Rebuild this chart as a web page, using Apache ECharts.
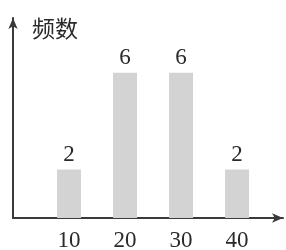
<!DOCTYPE html>
<html>
<head>
<meta charset="utf-8">
<script src="https://cdn.jsdelivr.net/npm/echarts@6/dist/echarts.min.js"></script>
<style>html,body{margin:0;padding:0;background:#fff}#c{width:286px;height:250px}</style>
</head>
<body>
<div id="c"></div>
<script>
var categories = [10, 20, 30, 40];
var frequencies = [2, 6, 6, 2];
var yName = '频数';

var chart = echarts.init(document.getElementById('c'), null, {renderer: 'canvas'});
var serif = '"Liberation Serif", "DejaVu Serif", serif';
chart.setOption({
  animation: false,
  backgroundColor: '#fff',
  title: {
    text: yName, left: 27, top: 12,
    textStyle: {fontSize: 23, fontWeight: 'normal', color: '#2a2a2a', fontFamily: '"Noto Sans CJK SC", sans-serif'}
  },
  grid: {left: 13, right: 3, top: 18, bottom: 32, outerBoundsMode: 'none', containLabel: false},
  xAxis: {
    type: 'value', min: 0, max: 48.2, interval: 10,
    splitLine: {show: false},
    axisTick: {show: false},
    axisLine: {show: true, lineStyle: {color: '#3a3a3a', width: 2}, symbol: ['none', 'arrow'], symbolSize: [7, 11], symbolOffset: [0, 0]},
    axisLabel: {
      margin: 11, fontSize: 23, color: '#2a2a2a', fontFamily: serif,
      formatter: function (v) { return (v > 0 && categories.indexOf(v) >= 0) ? String(v) : ''; }
    }
  },
  yAxis: {
    type: 'value', min: 0, max: 8.26,
    splitLine: {show: false},
    axisTick: {show: false},
    axisLabel: {show: false},
    axisLine: {show: true, lineStyle: {color: '#3a3a3a', width: 2}, symbol: ['none', 'arrow'], symbolSize: [7, 11], symbolOffset: [0, 0]}
  },
  series: [{
    type: 'bar',
    data: categories.map(function (c, i) { return [c, frequencies[i]]; }),
    barWidth: 24,
    itemStyle: {color: '#d3d3d3'},
    label: {show: true, position: 'top', distance: 3, fontSize: 23, color: '#2a2a2a', fontFamily: serif}
  }]
});
</script>
</body>
</html>
